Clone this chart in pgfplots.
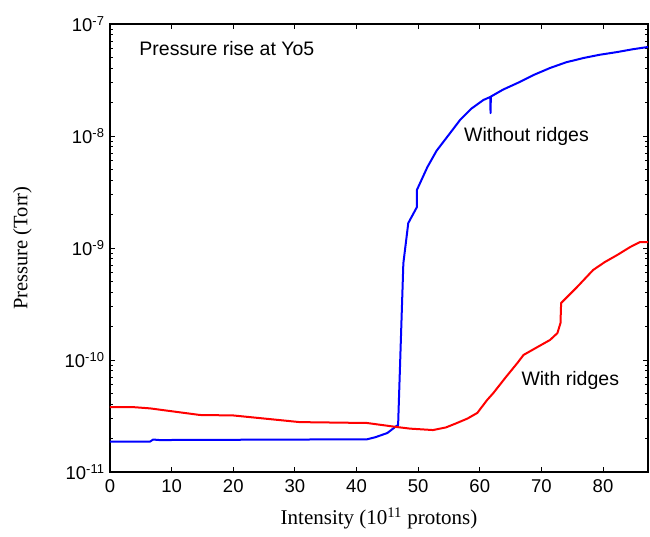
\documentclass[border=0pt]{standalone}
\usepackage{fontspec}
\setmainfont{Liberation Serif}
\newfontfamily\sansf{Liberation Sans}
\usepackage{pgfplots}
\pgfplotsset{compat=1.18}
\begin{document}
\begin{tikzpicture}
\begin{axis}[
  at={(0,0)}, anchor=south west,
  scale only axis, width=538pt, height=448pt,
  ymode=log, xmin=0, xmax=87.3, ymin=1e-11, ymax=1e-7,
  xtick={0,10,...,80},
  ytick={1e-11,1e-10,1e-9,1e-8,1e-7},
  yticklabels={10\textsuperscript{-11},10\textsuperscript{-10},10\textsuperscript{-9},10\textsuperscript{-8},10\textsuperscript{-7}},
  tick label style={font=\sansf\fontsize{18.5}{20}\selectfont},
  xticklabel style={yshift=-4pt},
  yticklabel style={xshift=-2pt},
  /pgf/number format/assume math mode=true,
  tick align=inside, major tick length=5pt, minor tick length=3pt,
  axis line style={line width=1.3pt}, tick style={line width=0.9pt, black},
  xlabel={Intensity (10\textsuperscript{11} protons)},
  ylabel={Pressure (Torr)},
  xlabel style={font=\fontsize{21}{23}\selectfont, yshift=-8pt},
  ylabel style={font=\fontsize{20.5}{22}\selectfont, yshift=26pt},
  clip=true,
]
\addplot[blue, line width=2pt, line join=round] coordinates {
(0,1.87e-11) (6.5,1.87e-11) (7,1.95e-11) (8,1.93e-11) (41.7,1.96e-11) (43,2.04e-11)
(45,2.23e-11) (46.5,2.58e-11) (46.75,2.62e-11) (47.6,7.3e-10) (48.4,1.67e-9)
(49.8,2.32e-9) (49.8,3.3e-9) (51.5,5.28e-9) (53.0,7.4e-9) (54.7,9.8e-9) (56.8,1.39e-8)
(58.6,1.75e-8) (60.6,2.1e-8) (61.7,2.23e-8) (61.75,1.6e-8) (61.8,2.25e-8) (63.8,2.6e-8) (66.1,2.97e-8)
(68.7,3.5e-8) (71.4,4.05e-8) (74.0,4.55e-8) (76.8,4.97e-8) (79.5,5.32e-8) (82.3,5.62e-8) (84.8,5.95e-8) (87.3,6.24e-8)
};
\addplot[red, line width=2pt, line join=round] coordinates {
(0,3.8e-11) (3.7,3.8e-11) (6.5,3.7e-11) (14.6,3.23e-11) (20,3.2e-11) (30.8,2.79e-11)
(41.7,2.74e-11) (46.6,2.52e-11) (48.7,2.44e-11) (52.4,2.37e-11) (54.5,2.5e-11) (56.3,2.74e-11)
(58.0,3.0e-11) (59.6,3.37e-11) (61.2,4.4e-11) (62.2,5.07e-11) (64.2,7.0e-11) (66.1,9.4e-11) (67.1,1.11e-10)
(69.3,1.3e-10) (71.4,1.51e-10) (72.6,1.74e-10) (73.1,2.14e-10) (73.2,3.23e-10) (75.8,4.49e-10)
(78.4,6.37e-10) (80.3,7.5e-10) (82.3,8.66e-10) (84.4,1.02e-9) (86.0,1.13e-9) (87.7,1.13e-9)
};
\node[anchor=west, font=\sansf\fontsize{19.5}{21}\selectfont] at (axis cs:4.2,6.1e-8) {Pressure rise at Yo5};
\node[anchor=west, font=\sansf\fontsize{19.5}{21}\selectfont] at (axis cs:56.9,1e-8) {Without ridges};
\node[anchor=west, font=\sansf\fontsize{19.5}{21}\selectfont] at (axis cs:66.2,6.6e-11) {With ridges};
\end{axis}
\useasboundingbox (-110pt,-64pt) rectangle (540pt,472pt);
\end{tikzpicture}
\end{document}
